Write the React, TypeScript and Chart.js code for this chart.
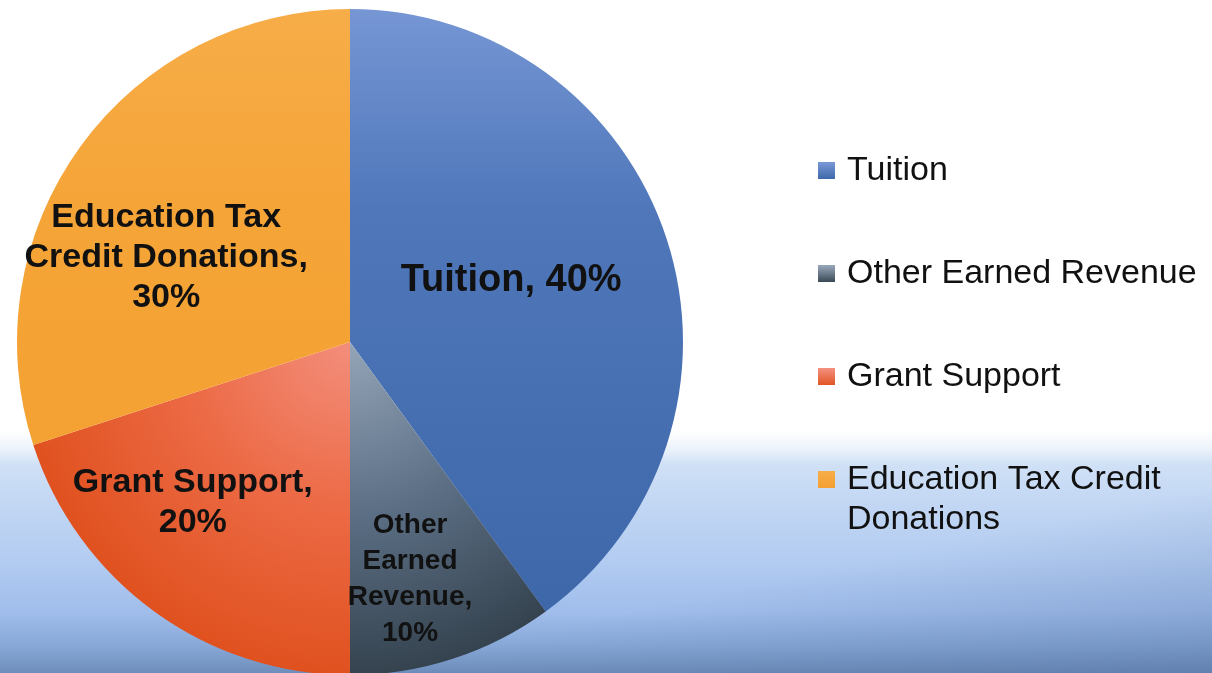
import React, { useEffect, useRef } from "react";
import { Chart, registerables } from "chart.js";

Chart.register(...registerables);

const categories = ["Tuition", "Other Earned Revenue", "Grant Support", "Education Tax Credit Donations"];
const shares = [40, 10, 20, 30];
const sliceLabels = [
  ["Tuition, 40%"],
  ["Other", "Earned", "Revenue,", "10%"],
  ["Grant Support,", "20%"],
  ["Education Tax", "Credit Donations,", "30%"],
];
const legendLines = [["Tuition"], ["Other Earned Revenue"], ["Grant Support"], ["Education Tax Credit", "Donations"]];

// styling only
const gradStops = [
  ["#7696d4", "#4f77ba", "#3b65a7"],
  ["#95a5b8", "#5d7086", "#35434f"],
  ["#f38e7c", "#ec6a45", "#e0511f"],
  ["#f7ad48", "#f5a437", "#f39f2e"],
];
const gradKind = ["linear", "radial", "radial", "linear"];
const labelFont = [38, 28, 34, 34];
const labelLineH = [40, 36, 40, 40];
const labelRadius = [0.52, 0.73, 0.67, 0.61];
const labelAngleOffset = [-3.5, 3.7, 8.8, -10.8];

function geom(chart: any) {
  const a = chart.chartArea;
  const cx = (a.left + a.right) / 2;
  const cy = (a.top + a.bottom) / 2;
  const r = Math.min(a.right - a.left, a.bottom - a.top) / 2;
  return { cx, cy, r };
}

const labelPlugin = {
  id: "sliceLabels",
  afterDatasetsDraw(chart: any) {
    const ctx = chart.ctx;
    const meta = chart.getDatasetMeta(0);
    ctx.save();
    ctx.fillStyle = "#111111";
    ctx.textAlign = "center";
    ctx.textBaseline = "middle";
    meta.data.forEach((arc: any, i: number) => {
      const p = arc.getProps(["x", "y", "startAngle", "endAngle", "outerRadius"], true);
      const mid = (p.startAngle + p.endAngle) / 2 + (labelAngleOffset[i] * Math.PI) / 180;
      const rr = p.outerRadius * labelRadius[i];
      const x = p.x + Math.cos(mid) * rr;
      const y = p.y + Math.sin(mid) * rr + 2;
      const lines = sliceLabels[i];
      const lh = labelLineH[i];
      ctx.font = `bold ${labelFont[i]}px "Liberation Sans", Arial, sans-serif`;
      lines.forEach((t, j) => {
        ctx.fillText(t, x, y + (j - (lines.length - 1) / 2) * lh);
      });
    });
    ctx.restore();
  },
};

const legendPlugin = {
  id: "sideLegend",
  afterDraw(chart: any) {
    const ctx = chart.ctx;
    const baseX = 818;
    const firstBaseline = 180;
    const step = 103;
    const box = 17;
    ctx.save();
    ctx.font = `34px "Liberation Sans", Arial, sans-serif`;
    ctx.textAlign = "left";
    ctx.textBaseline = "alphabetic";
    legendLines.forEach((lines, i) => {
      const bl = firstBaseline + i * step;
      const g = ctx.createLinearGradient(0, bl - box, 0, bl);
      g.addColorStop(0, gradStops[i][0]);
      g.addColorStop(1, gradStops[i][2]);
      ctx.fillStyle = g;
      ctx.fillRect(baseX, bl - box - 1, box, box);
      ctx.fillStyle = "#111111";
      lines.forEach((t, j) => ctx.fillText(t, baseX + 29, bl + j * 40));
    });
    ctx.restore();
  },
};

export default function App() {
  const ref = useRef<HTMLCanvasElement>(null);
  useEffect(() => {
    if (!ref.current) return;
    const chart = new Chart(ref.current, {
      type: "pie",
      data: {
        labels: categories,
        datasets: [
          {
            data: shares,
            borderWidth: 0,
            backgroundColor: (c: any) => {
              const chart = c.chart;
              const i = c.dataIndex;
              if (!chart.chartArea) return gradStops[i][1];
              const { cx, cy, r } = geom(chart);
              const ctx = chart.ctx;
              let g;
              if (gradKind[i] === "radial") {
                g = ctx.createRadialGradient(cx, cy, 0, cx, cy, r);
                g.addColorStop(0, gradStops[i][0]);
                g.addColorStop(0.5, gradStops[i][1]);
                g.addColorStop(1, gradStops[i][2]);
              } else {
                g = ctx.createLinearGradient(cx, cy - r, cx, cy + r);
                g.addColorStop(0, gradStops[i][0]);
                g.addColorStop(0.3, gradStops[i][1]);
                g.addColorStop(1, gradStops[i][2]);
              }
              return g;
            },
          },
        ],
      },
      options: {
        responsive: false,
        animation: false,
        layout: { padding: { left: 17, top: 9, right: 529, bottom: 25 } },
        plugins: {
          legend: { display: false },
          tooltip: { enabled: false },
        },
      },
      plugins: [labelPlugin, legendPlugin],
    });
    return () => chart.destroy();
  }, []);

  return (
    <div
      style={{
        position: "fixed",
        left: 0,
        top: 0,
        width: 1212,
        height: 673,
        overflow: "hidden",
        background:
          "linear-gradient(168deg, rgba(0,0,0,0) 80%, rgba(70,100,150,0.32) 100%), linear-gradient(to bottom, #ffffff 0%, #ffffff 64%, #eef4fb 66.5%, #d0e1f6 69%, #c4d8f4 74%, #b3ccf1 83%, #a0bdeb 91%, #87a8d7 96%, #6e8dba 100%)",
      }}
    >
      <canvas ref={ref} width={1212} height={700} style={{ width: 1212, height: 700, display: "block" }} />
    </div>
  );
}
